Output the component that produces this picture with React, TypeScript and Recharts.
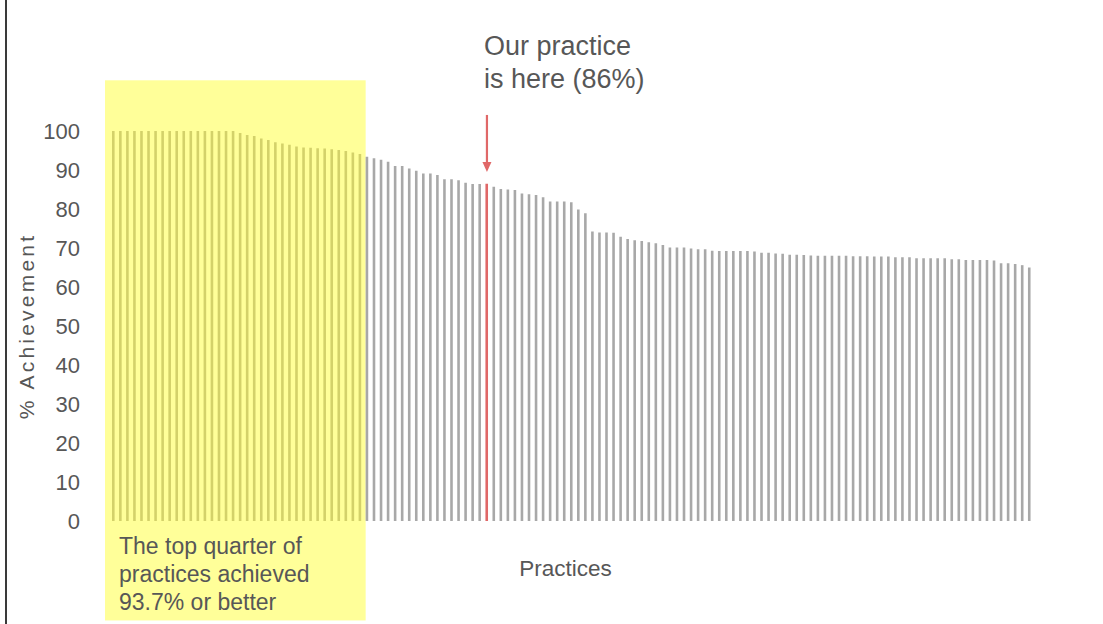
import { BarChart, Bar, XAxis, YAxis, Cell, ReferenceArea, ReferenceDot } from 'recharts';

// % achievement per practice, sorted high to low
const practiceValues = [
  100, 100, 100, 100, 100, 100, 100, 100, 100, 100,
  100, 100, 100, 100, 100, 100, 100, 100, 99.5, 99.0,
  98.7, 98.1, 97.7, 97.1, 96.8, 96.5, 96.0, 95.8, 95.7, 95.6,
  95.5, 95.3, 95.1, 94.9, 94.5, 94.1, 93.4, 93.0, 92.6, 92.1,
  91.0, 91.0, 90.4, 89.8, 89.1, 89.1, 88.7, 87.6, 87.6, 87.4,
  86.7, 86.4, 86.4, 86.5, 85.7, 85.1, 85.0, 84.9, 84.0, 83.8,
  83.6, 83.0, 81.9, 81.9, 81.9, 81.7, 79.9, 78.9, 74.2, 74.0,
  74.0, 73.9, 72.9, 72.3, 72.0, 71.8, 71.5, 71.2, 70.8, 70.1,
  70.1, 70.1, 69.9, 69.7, 69.7, 69.3, 69.2, 69.2, 69.2, 69.2,
  69.2, 69.1, 68.8, 68.8, 68.6, 68.5, 68.3, 68.3, 68.2, 68.1,
  68.0, 68.0, 68.0, 68.0, 68.0, 67.9, 67.9, 67.9, 67.8, 67.8,
  67.8, 67.6, 67.6, 67.6, 67.4, 67.4, 67.4, 67.4, 67.4, 67.1,
  67.1, 66.9, 66.9, 66.9, 66.9, 66.8, 66.1, 66.1, 65.9, 65.6,
  65.0,
];
const practiceIds = practiceValues.map((_, i) => `P${i + 1}`);
const yTicks = [0, 10, 20, 30, 40, 50, 60, 70, 80, 90, 100];

const topQuarterCount = 36;
const ourPracticeIdx = 53;
const ourPracticeLabel = ['Our practice', 'is here (86%)'];
const topQuarterLabel = ['The top quarter of', 'practices achieved', '93.7% or better'];

const data = practiceIds.map((id, i) => ({ id, value: practiceValues[i] }));

const FONT = '"Liberation Sans", Arial, sans-serif';
const TEXT = '#575757';
const GREY = '#a8a8a8';
const OLIVE = '#d3d16a';
const RED = '#e06868';
const YELLOW = '#ffff99';

const YLabel = (props: any) => {
  const vb = props.viewBox || { x: 26, y: 131, width: 84, height: 390 };
  const cx = vb.x;
  const cy = vb.y + vb.height / 2;
  return (
    <text
      x={cx}
      y={cy}
      transform={`rotate(-90 ${cx} ${cy})`}
      textAnchor="middle"
      dominantBaseline="central"
      fontSize={21}
      letterSpacing={3.2}
      fill={TEXT}
      fontFamily={FONT}
    >
      % Achievement
    </text>
  );
};

const XLabel = (props: any) => {
  const vb = props.viewBox || { x: 110, y: 521, width: 923, height: 60 };
  return (
    <text
      x={vb.x + vb.width / 2 - 6}
      y={vb.y + 55}
      textAnchor="middle"
      fontSize={22.5}
      fill={TEXT}
      fontFamily={FONT}
    >
      Practices
    </text>
  );
};

// yellow highlight, a touch wider than the bands it covers
const QuarterBox = (props: any) => {
  const { x, y, width, height } = props;
  if (x == null) return <g />;
  return <rect x={x - 5} y={y} width={width + 7} height={height} fill={YELLOW} />;
};

const QuarterLabel = (props: any) => {
  const vb = props.viewBox;
  if (!vb) return null;
  const bottom = vb.y + vb.height;
  return (
    <g fontFamily={FONT} fontSize={23} fill={TEXT}>
      {topQuarterLabel.map((t, i) => (
        <text key={i} x={vb.x + 9} y={bottom - 66 + i * 28}>
          {t}
        </text>
      ))}
    </g>
  );
};

const Arrow = (props: any) => {
  const { cx, cy } = props;
  if (cx == null || cy == null) return <g />;
  return (
    <g>
      <line x1={cx} y1={cy - 57} x2={cx} y2={cy - 8} stroke={RED} strokeWidth={2.2} />
      <path d={`M${cx - 4.5},${cy - 10} L${cx + 4.5},${cy - 10} L${cx},${cy} Z`} fill={RED} />
      {ourPracticeLabel.map((t, i) => (
        <text key={i} x={cx - 3} y={cy - 117 + i * 33} fontSize={27} fill={TEXT} fontFamily={FONT}>
          {t}
        </text>
      ))}
    </g>
  );
};

export default function App() {
  return (
    <div
      style={{
        position: 'absolute',
        left: 0,
        top: 0,
        width: 1103,
        height: 624,
        background: '#fff',
        overflow: 'hidden',
        fontFamily: FONT,
      }}
    >
      <div style={{ position: 'absolute', left: 5, top: 0, width: 2, height: 624, background: '#3a3a3a' }} />
      <BarChart
        width={1103}
        height={624}
        data={data}
        margin={{ top: 131, right: 70, bottom: 43, left: 26 }}
        barCategoryGap={0}
      >
        <ReferenceArea
          x1={practiceIds[0]}
          x2={practiceIds[topQuarterCount - 1]}
          y1={-25.5}
          y2={113}
          ifOverflow="visible"
          shape={QuarterBox}
          label={QuarterLabel}
        />
        <XAxis dataKey="id" tick={false} tickLine={false} axisLine={false} height={60} label={XLabel} />
        <YAxis
          domain={[0, 100]}
          ticks={yTicks}
          width={84}
          axisLine={false}
          tickLine={false}
          tickSize={0}
          tickMargin={30}
          tick={{ fill: TEXT, fontSize: 22, fontFamily: FONT }}
          label={YLabel}
        />
        <Bar dataKey="value" barSize={2.6} isAnimationActive={false}>
          {data.map((_, i) => (
            <Cell key={i} fill={i === ourPracticeIdx ? RED : i < topQuarterCount ? OLIVE : GREY} />
          ))}
        </Bar>
        <ReferenceDot
          x={practiceIds[ourPracticeIdx]}
          y={89.5}
          ifOverflow="visible"
          shape={Arrow}
        />
      </BarChart>
    </div>
  );
}
